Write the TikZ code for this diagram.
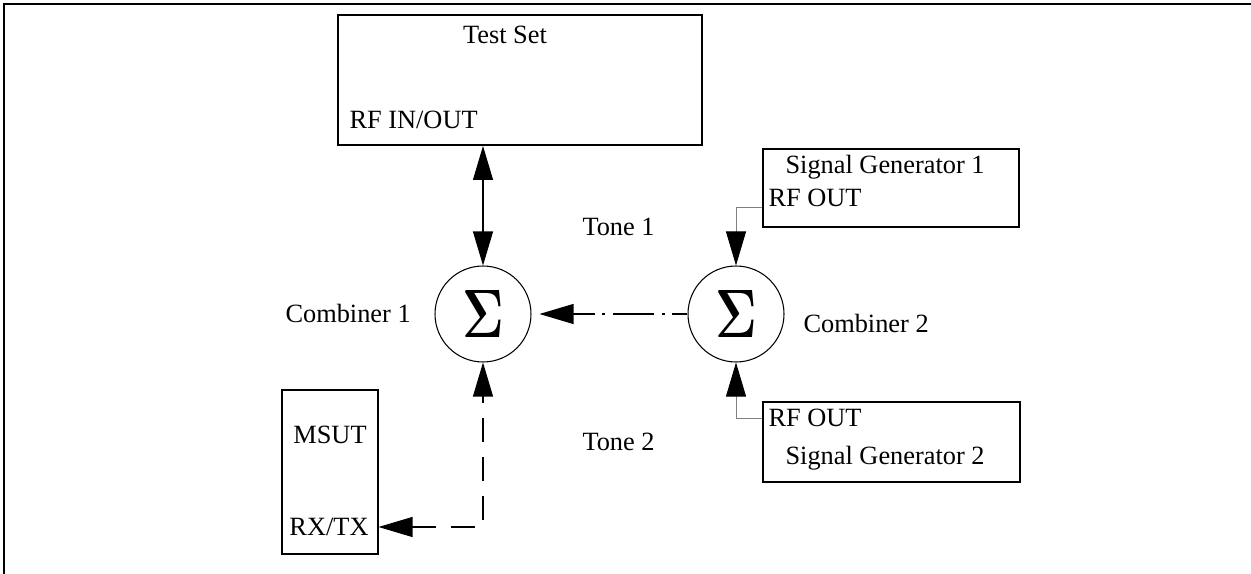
\documentclass[tikz,border=0pt]{standalone}
\usepackage{fontspec}
\newfontfamily\libserif{Liberation Serif}
\usetikzlibrary{arrows.meta}

\begin{document}
\begin{tikzpicture}[x=0.02cm, y=-0.02cm, >={Triangle[length=6.8mm, width=4mm]}, line width=0.6pt,
  caja/.style={draw, rectangle, inner sep=0pt},
  sumador/.style={draw, circle, minimum size=1.92cm, inner sep=0pt, font=\bfseries\fontsize{39}{42}\selectfont},
  rotulo/.style={inner sep=0pt, font=\libserif\fontsize{15}{18}\selectfont},
  puerto/.style={draw=black!50, line width=0.5pt, -{Triangle[length=6.8mm, width=4mm, black]}}]
  \useasboundingbox (0,0) rectangle (1251,574);
  \clip (0,0) rectangle (1251,574);
  % marco exterior (sigue fuera de la imagen)
  \draw[line width=1.4pt] (4,4) rectangle (1300,640);
  % equipo de prueba
  \node[caja, line width=1.1pt, minimum width=7.28cm, minimum height=2.6cm] (testset) at (520,80) {};
  \node[rotulo] (testsetlbl) at (505,35) {Test Set};
  \node[rotulo, anchor=west] (rfinout) at (349,120) {RF IN/OUT};
  % generadores de senal
  \node[caja, line width=0.9pt, minimum width=5.12cm, minimum height=1.56cm] (sg1) at (891,188) {};
  \node[rotulo, anchor=west] (sg1lbl) at (785,167) {Signal Generator 1};
  \node[rotulo, anchor=west] (sg1out) at (768,198) {RF OUT};
  \node[caja, line width=0.9pt, minimum width=5.14cm, minimum height=1.6cm] (sg2) at (891.5,442) {};
  \node[rotulo, anchor=west] (sg2out) at (768,418) {RF OUT};
  \node[rotulo, anchor=west] (sg2lbl) at (785,458) {Signal Generator 2};
  % movil bajo prueba
  \node[caja, minimum width=1.92cm, minimum height=3.28cm] (msut) at (330,472) {};
  \node[rotulo] (msutlbl) at (330,435) {MSUT};
  \node[rotulo] (rxtx) at (329,527) {RX/TX};
  % combinadores
  \node[sumador] (c1) at (483,314) {\scalebox{0.75}[1]{Σ}};
  \node[sumador] (c2) at (736,314) {\scalebox{0.75}[1]{Σ}};
  \node[rotulo, anchor=west] (c1lbl) at (285,313) {Combiner 1};
  \node[rotulo, anchor=west] (c2lbl) at (803,323) {Combiner 2};
  \node[rotulo, anchor=west] (tono1) at (582,227) {Tone 1};
  \node[rotulo, anchor=west] (tono2) at (582,442) {Tone 2};
  % conexiones
  \draw[<->] (c1.north |- testset.south) -- (c1.north);
  \draw[->, dash pattern=on 0.84cm off 0.15cm on 0.06cm off 0.15cm, dash phase=0.54cm, shorten >=0.16cm] (c2.west) -- (c1.east);
  \draw[puerto] (sg1.west |- sg1out.south) -| (c2.north);
  \draw[puerto] (sg2.west |- sg2out) -| (c2.south);
  \draw[<->, dash pattern=on 0.48cm off 0.3cm] (msut.east |- rxtx) -| (c1.south);
\end{tikzpicture}
\end{document}
